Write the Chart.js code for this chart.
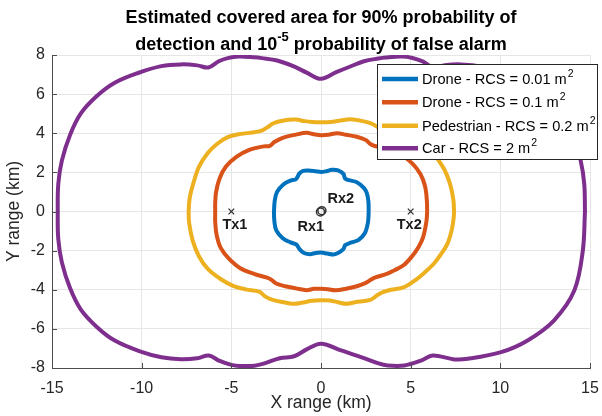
<!DOCTYPE html>
<html>
<head>
<meta charset="utf-8">
<script src="https://cdn.jsdelivr.net/npm/chart.js@4/dist/chart.umd.min.js"></script>
<style>
  body { margin: 0; background: #fff; }
  #wrap { width: 602px; height: 416px; }
</style>
</head>
<body>
<div id="wrap"><canvas id="coverageChart" width="602" height="416"></canvas></div>
<script>
// axis ticks
var xTicks = [-15, -10, -5, 0, 5, 10, 15];
var yTicks = [-8, -6, -4, -2, 0, 2, 4, 6, 8];

// series names (text before the m^2 superscript)
var seriesNames = ['Drone - RCS = 0.01 m', 'Drone - RCS = 0.1 m', 'Pedestrian - RCS = 0.2 m', 'Car - RCS = 2 m'];

// contours (km)
var droneSmallX = [2.66, 2.64, 2.55, 2.4, 2.0, 1.55, 1.35, 1.25, 0.95, 0.6, 0.3, 0,
  -0.3, -0.7, -1.0, -1.2, -1.4, -1.7, -2.1, -2.45, -2.58, -2.62,
  -2.6, -2.5, -2.15, -1.7, -1.38, -1.2, -0.95, -0.6, -0.3, 0,
  0.35, 0.7, 1.0, 1.25, 1.35, 1.7, 2.1, 2.45, 2.62, 2.66];
var droneSmallY = [0, 0.55, 0.95, 1.2, 1.5, 1.6, 1.68, 1.92, 2.1, 2.13, 2.06, 2.02,
  2.06, 2.1, 2.08, 1.95, 1.65, 1.58, 1.38, 1.0, 0.55, 0,
  -0.5, -0.95, -1.35, -1.58, -1.68, -1.92, -2.12, -2.18, -2.12, -2.1,
  -2.15, -2.2, -2.1, -1.92, -1.72, -1.58, -1.45, -1.1, -0.55, 0];

var droneLargeX = [5.92, 5.9, 5.8, 5.55, 5.1, 4.45, 3.7, 3.0, 2.75, 2.5, 2.0, 1.4, 0.9, 0.4, 0,
  -0.4, -0.8, -1.4, -2.1, -2.6, -2.85, -3.2, -4.0, -4.7, -5.3, -5.65, -5.85, -5.9, -5.9,
  -5.9, -5.82, -5.6, -5.15, -4.5, -3.7, -3.0, -2.78, -2.5, -2.0, -1.4, -0.8, -0.4, 0,
  0.4, 0.8, 1.4, 2.0, 2.5, 2.8, 3.0, 3.7, 4.1, 4.6, 5.05, 5.45, 5.7, 5.88, 5.92];
var droneLargeY = [0, 0.6, 1.3, 1.9, 2.45, 2.9, 3.2, 3.35, 3.45, 3.65, 3.82, 3.92, 4.0, 3.92, 3.9,
  3.95, 4.02, 3.93, 3.78, 3.55, 3.36, 3.33, 3.15, 2.8, 2.3, 1.7, 1.0, 0.4, 0,
  -0.5, -1.2, -1.85, -2.4, -2.9, -3.2, -3.38, -3.48, -3.68, -3.82, -3.93, -4.02, -3.95, -3.95,
  -3.98, -4.03, -3.95, -3.82, -3.65, -3.48, -3.38, -3.18, -3.0, -2.75, -2.32, -1.8, -1.3, -0.5, 0];

var pedestrianX = [7.42, 7.38, 7.2, 6.85, 6.3, 5.6, 4.9, 4.2, 3.45, 3.15, 2.75, 2.1, 1.6, 1.1, 0.5, 0,
  -0.5, -0.9, -1.4, -1.8, -2.6, -3.0, -3.35, -4.0, -4.6, -5.2, -5.8, -6.3, -6.8, -7.1, -7.32, -7.38,
  -7.35, -7.15, -6.8, -6.3, -5.6, -4.9, -4.2, -3.45, -3.1, -2.7, -2.0, -1.5, -1.0, -0.5, 0,
  0.5, 1.0, 1.4, 1.9, 2.75, 3.1, 3.45, 3.9, 4.6, 5.2, 5.8, 6.3, 6.75, 7.06, 7.3, 7.4, 7.42];
var pedestrianY = [0, 0.6, 1.4, 2.2, 2.9, 3.45, 3.8, 3.98, 4.1, 4.32, 4.52, 4.66, 4.72, 4.65, 4.57, 4.56,
  4.58, 4.62, 4.7, 4.69, 4.53, 4.3, 4.12, 4.02, 3.95, 3.8, 3.45, 3.0, 2.3, 1.5, 0.7, 0,
  -0.6, -1.5, -2.3, -2.95, -3.45, -3.8, -3.98, -4.1, -4.35, -4.52, -4.65, -4.72, -4.65, -4.56, -4.54,
  -4.55, -4.65, -4.72, -4.64, -4.52, -4.3, -4.12, -4.0, -3.88, -3.55, -3.1, -2.66, -2.1, -1.63, -0.9, -0.3, 0];

var carX = [14.72, 14.68, 14.48, 14.05, 13.45, 12.6, 11.6, 10.2, 9.0, 7.8, 6.9, 6.25, 5.7, 5.1, 4.5, 3.6, 3.2, 2.4, 1.6, 0.85, 0,
  -0.8, -1.55, -2.45, -3.3, -3.7, -4.6, -5.2, -5.7, -6.28, -6.9, -7.8, -8.9, -10.2, -11.5, -12.5, -13.4, -14.0, -14.45, -14.65, -14.68,
  -14.65, -14.45, -14.0, -13.4, -12.5, -11.5, -10.1, -8.9, -7.8, -6.9, -6.25, -5.65, -5.0, -4.5, -3.7, -3.2, -2.3, -1.5, -0.8, 0,
  1.12, 2.23, 3.16, 3.72, 4.65, 5.58, 6.23, 7.43, 8.18, 10.04, 11.52, 13.0, 14.13, 14.6, 14.72];
var carY = [0, 1.4, 2.6, 3.9, 4.95, 5.85, 6.55, 7.1, 7.4, 7.52, 7.48, 7.36, 7.66, 7.85, 7.92, 7.87, 7.82, 7.68, 7.4, 7.12, 6.78,
  7.1, 7.43, 7.72, 7.84, 7.88, 7.92, 7.84, 7.68, 7.36, 7.47, 7.52, 7.43, 7.08, 6.58, 5.9, 5.0, 3.9, 2.6, 1.4, 0,
  -1.4, -2.6, -3.9, -5.0, -5.9, -6.6, -7.15, -7.45, -7.55, -7.5, -7.36, -7.64, -7.84, -7.9, -7.88, -7.78, -7.5, -7.4, -7.05, -6.76,
  -7.1, -7.44, -7.75, -7.87, -7.87, -7.62, -7.36, -7.56, -7.53, -7.19, -6.59, -5.56, -4.03, -2.0, 0];

// transmitters / receivers
var txX = [-5, 5];
var txY = [0, 0];
var rxX = [-0.03, 0.05];
var rxY = [-0.02, 0.04];

// text labels next to the sites
var siteLabels = ['Tx1', 'Tx2', 'Rx2', 'Rx1'];
var siteLabelX = [-4.8, 4.92, 1.1, -0.57];
var siteLabelY = [-0.69, -0.69, 0.64, -0.81];

var colors = ['#0072BD', '#D95319', '#EDB120', '#7E2F8E'];
var FONT = "'Liberation Sans', Arial, Helvetica, sans-serif";

function pts(xs, ys) {
  return xs.map(function (x, i) { return { x: x, y: ys[i] }; });
}

function contour(label, xs, ys, color) {
  return {
    label: label,
    data: pts(xs, ys),
    showLine: true,
    borderColor: color,
    backgroundColor: color,
    borderWidth: 4,
    pointRadius: 0,
    tension: 0.35,
    fill: false
  };
}

var overlay = {
  id: 'overlay',
  afterDatasetsDraw: function (chart) {
    var ctx = chart.ctx;
    var xs = chart.scales.x, ys = chart.scales.y;
    var area = chart.chartArea;

    // inward tick marks
    ctx.save();
    ctx.strokeStyle = '#4d4d4d';
    ctx.lineWidth = 1;
    ctx.beginPath();
    xTicks.forEach(function (t) {
      var px = Math.round(xs.getPixelForValue(t)) + 0.5;
      ctx.moveTo(px, area.bottom);
      ctx.lineTo(px, area.bottom - 5);
    });
    yTicks.forEach(function (t) {
      var py = Math.round(ys.getPixelForValue(t)) + 0.5;
      ctx.moveTo(area.left, py);
      ctx.lineTo(area.left + 5, py);
    });
    ctx.stroke();

    // site labels
    ctx.fillStyle = '#1a1a1a';
    ctx.font = 'bold 14.5px ' + FONT;
    ctx.textAlign = 'center';
    ctx.textBaseline = 'middle';
    siteLabels.forEach(function (s, i) {
      ctx.fillText(s, xs.getPixelForValue(siteLabelX[i]), ys.getPixelForValue(siteLabelY[i]));
    });

    // legend box
    var lx = 377, ly = 64, lw = 221, lh = 96;
    ctx.fillStyle = '#ffffff';
    ctx.fillRect(lx, ly, lw, lh);
    ctx.strokeStyle = '#262626';
    ctx.lineWidth = 1;
    ctx.strokeRect(lx + 0.5, ly + 0.5, lw - 1, lh - 1);
    var rowY = [79, 102.3, 125.7, 148.3];
    ctx.textAlign = 'left';
    seriesNames.forEach(function (name, i) {
      ctx.strokeStyle = colors[i];
      ctx.lineWidth = 4.5;
      ctx.beginPath();
      ctx.moveTo(382, rowY[i]);
      ctx.lineTo(418, rowY[i]);
      ctx.stroke();
      ctx.fillStyle = '#000000';
      ctx.font = '14.6px ' + FONT;
      ctx.textBaseline = 'middle';
      ctx.fillText(name, 422, rowY[i] + 1);
      var w = ctx.measureText(name).width;
      ctx.font = '10.5px ' + FONT;
      ctx.fillText('2', 422 + w + 1, rowY[i] - 5);
    });

    // title
    ctx.fillStyle = '#000000';
    ctx.textBaseline = 'middle';
    ctx.font = 'bold 18px ' + FONT;
    ctx.textAlign = 'center';
    var cx = (area.left + area.right) / 2;
    ctx.fillText('Estimated covered area for 90% probability of', cx, 18);
    var a = 'detection and 10', sup = '-5', b = ' probability of false alarm';
    var wa = ctx.measureText(a).width, wb = ctx.measureText(b).width;
    ctx.font = 'bold 13px ' + FONT;
    var ws = ctx.measureText(sup).width;
    var start = cx - (wa + ws + wb) / 2;
    ctx.textAlign = 'left';
    ctx.font = 'bold 18px ' + FONT;
    ctx.fillText(a, start, 45);
    ctx.fillText(b, start + wa + ws, 45);
    ctx.font = 'bold 13px ' + FONT;
    ctx.fillText(sup, start + wa, 37);
    ctx.restore();
  }
};

var ctx = document.getElementById('coverageChart').getContext('2d');

var coverageChart = new Chart(ctx, {
  type: 'scatter',
  data: {
    datasets: [
      contour(seriesNames[0], droneSmallX, droneSmallY, colors[0]),
      contour(seriesNames[1], droneLargeX, droneLargeY, colors[1]),
      contour(seriesNames[2], pedestrianX, pedestrianY, colors[2]),
      contour(seriesNames[3], carX, carY, colors[3]),
      {
        label: 'Tx',
        data: pts(txX, txY),
        pointStyle: 'crossRot',
        pointRadius: 4,
        borderColor: '#262626',
        borderWidth: 1.2,
        showLine: false
      },
      {
        label: 'Rx',
        data: pts(rxX, rxY),
        pointStyle: 'circle',
        pointRadius: 4,
        borderColor: '#333333',
        backgroundColor: 'rgba(0,0,0,0)',
        borderWidth: 1.5,
        showLine: false
      }
    ]
  },
  options: {
    responsive: false,
    animation: false,
    layout: { padding: { top: 55, right: 12, left: 0, bottom: 0 } },
    plugins: {
      legend: { display: false },
      tooltip: { enabled: false }
    },
    scales: {
      x: {
        type: 'linear',
        min: -15,
        max: 15,
        afterBuildTicks: function (scale) {
          scale.ticks = xTicks.map(function (v) { return { value: v }; });
        },
        afterFit: function (scale) {
          scale.height = 48;
          scale.paddingLeft = 0;
          scale.paddingRight = 0;
        },
        grid: { color: '#e6e6e6', drawTicks: false },
        border: { color: '#4d4d4d', width: 1 },
        ticks: { padding: 11, color: '#262626', font: { family: FONT, size: 16 }, maxRotation: 0 },
        title: { display: true, text: 'X range (km)', color: '#262626', font: { family: FONT, size: 17.5 }, padding: { top: 0, bottom: 2 } }
      },
      y: {
        type: 'linear',
        min: -8,
        max: 8,
        afterBuildTicks: function (scale) {
          scale.ticks = yTicks.map(function (v) { return { value: v }; });
        },
        afterFit: function (scale) {
          scale.width = 52;
          scale.paddingTop = 0;
          scale.paddingBottom = 0;
        },
        grid: { color: '#e6e6e6', drawTicks: false },
        border: { color: '#4d4d4d', width: 1 },
        ticks: { padding: 7, color: '#262626', font: { family: FONT, size: 16 } },
        title: { display: true, text: 'Y range (km)', color: '#262626', font: { family: FONT, size: 17.5 }, padding: { top: 3.5, bottom: 0 } }
      }
    }
  },
  plugins: [overlay]
});
</script>
</body>
</html>
